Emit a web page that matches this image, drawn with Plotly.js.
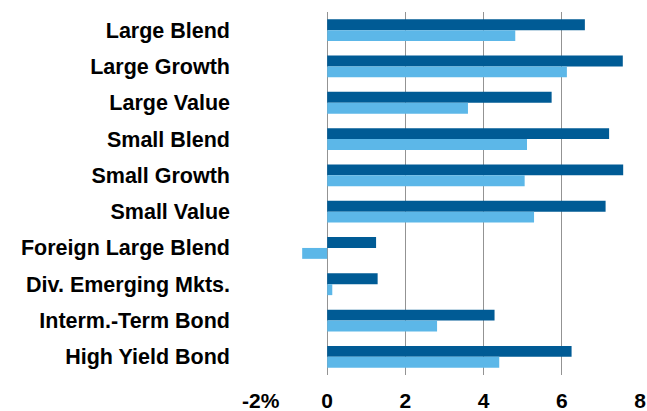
<!DOCTYPE html>
<html>
<head>
<meta charset="utf-8">
<script src="https://cdn.plot.ly/plotly-3.0.1.min.js"></script>
<style>
  html, body { margin: 0; padding: 0; background: #fff; }
  #chart { width: 647px; height: 411px; }
</style>
</head>
<body>
<div id="chart"></div>
<script>
// Fund categories, top to bottom
const categories = [
  "Large Blend", "Large Growth", "Large Value",
  "Small Blend", "Small Growth", "Small Value",
  "Foreign Large Blend", "Div. Emerging Mkts.",
  "Interm.-Term Bond", "High Yield Bond"
];

// Returns in percent for the two periods
const returnsDark  = [6.59, 7.56, 5.74, 7.21, 7.57, 7.12, 1.25, 1.29, 4.28, 6.25];
const returnsLight = [4.81, 6.13, 3.60, 5.11, 5.05, 5.29, -0.64, 0.13, 2.81, 4.40];

// Value axis ticks (the first label keeps its number centred on the gridline)
const tickValues = [-2, 0, 2, 4, 6, 8];
const tickLabels = ["\u00a0\u00a0\u00a0\u00a0-2%", "0", "2", "4", "6", "8"];

const fontFamily = "Liberation Sans, Arial, sans-serif";
const catFont  = { family: fontFamily, size: 21.5, color: "#000", weight: "bold" };
const tickFont = { family: fontFamily, size: 21, color: "#000", weight: "bold" };

const traces = [
  {
    type: "bar", orientation: "h", name: "Return A",
    y: categories, x: returnsDark,
    marker: { color: "#005b95", line: { width: 0 } },
    hoverinfo: "skip"
  },
  {
    type: "bar", orientation: "h", name: "Return B",
    y: categories, x: returnsLight,
    marker: { color: "#5cb7e8", line: { width: 0 } },
    hoverinfo: "skip"
  }
];

const layout = {
  width: 647, height: 411,
  margin: { l: 249, r: 7, t: 12, b: 36, pad: 0 },
  paper_bgcolor: "#fff", plot_bgcolor: "#fff",
  barmode: "group", bargap: 0.4, bargroupgap: 0,
  showlegend: false,
  font: tickFont,
  xaxis: {
    range: [-2, 8], tickvals: tickValues, ticktext: tickLabels,
    showgrid: true, gridcolor: "#939393", gridwidth: 1,
    zeroline: false, showline: false, ticks: "",
    ticklabelstandoff: 11,
    tickfont: tickFont
  },
  yaxis: {
    type: "category", autorange: "reversed",
    showgrid: false, zeroline: false, showline: false, ticks: "",
    ticklabelstandoff: 18,
    tickfont: catFont
  }
};

Plotly.newPlot("chart", traces, layout, { staticPlot: true, displayModeBar: false });
</script>
</body>
</html>
